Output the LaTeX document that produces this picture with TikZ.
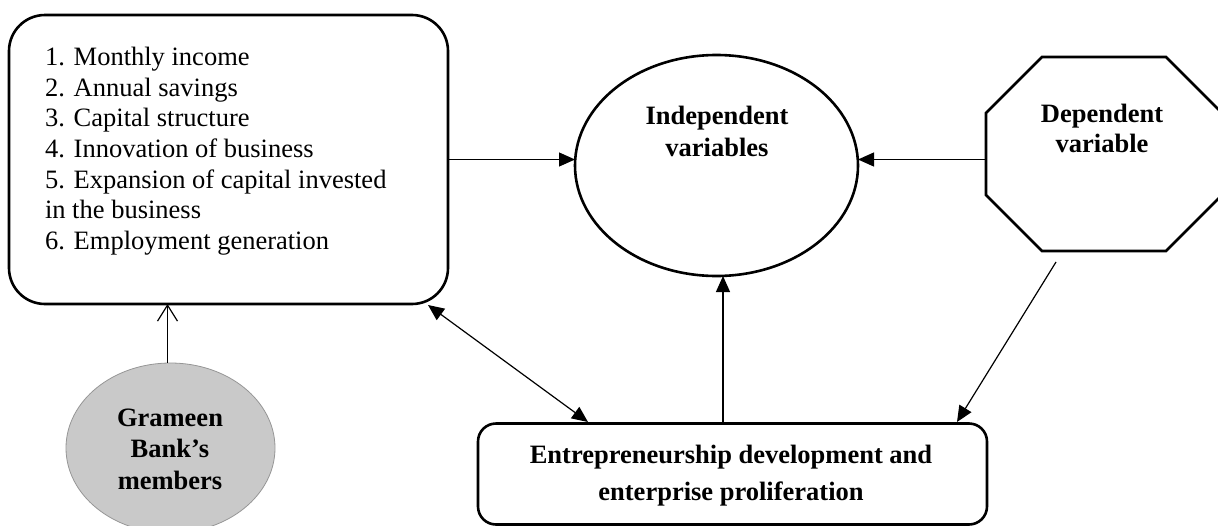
\documentclass[tikz,border=0pt]{standalone}
\usepackage{fontspec}
\setmainfont{Liberation Serif}
\usetikzlibrary{arrows.meta,shapes.geometric,calc}

\begin{document}
\begin{tikzpicture}[x=1pt,y=-1pt,
  every node/.style={inner sep=0pt,outer sep=0pt},
  thickline/.style={line width=2.6pt},
  arr/.style={line width=1.2pt,-{Triangle[length=16pt,width=14pt]}},
  dblarr/.style={line width=1.2pt,{Triangle[length=16pt,width=14pt]}-{Triangle[length=16pt,width=14pt]}},
  openarr/.style={line width=1.2pt,-{Straight Barb[length=16pt,width=20pt,line width=1.2pt]}},
  txt/.style={font=\fontsize{26.5}{30.7}\selectfont},
  btxt/.style={font=\fontsize{26.5}{31}\selectfont\bfseries,align=center},
]
\useasboundingbox (0,0) rectangle (1218,525);

% factor box with the six outcome measures
\node[draw,thickline,rounded corners=36pt,minimum width=439pt,minimum height=289pt] (lb) at (228.5,159.5) {};
\node[txt,anchor=north west,align=left] (lbt) at (45,47)
  {1. Monthly income\\2. Annual savings\\3. Capital structure\\4. Innovation of business\\5. Expansion of capital invested\\in the business\\6. Employment generation};

% independent variables
\node[draw,thickline,ellipse,minimum width=283pt,minimum height=221pt] (iv) at (716.5,165.5) {};
\node[btxt,font=\fontsize{26.5}{32}\selectfont\bfseries] (ivt) at (717,131) {Independent\\variables};

% dependent variable (octagon)
\node[minimum width=236pt,minimum height=194pt] (dep) at (1104,154) {};
\draw[thickline,line join=miter]
  ($(dep.north west)+(56,0)$) -- ($(dep.north east)+(-56,0)$) -- ($(dep.north east)+(0,56)$)
  -- ($(dep.south east)+(0,-56)$) -- ($(dep.south east)+(-56,0)$) -- ($(dep.south west)+(56,0)$)
  -- ($(dep.south west)+(0,-56)$) -- ($(dep.north west)+(0,56)$) -- cycle;
\node[btxt,font=\fontsize{26.5}{30}\selectfont\bfseries] (dept) at (1102,128) {Dependent\\variable};

% Grameen Bank's members
\node[ellipse,draw={rgb,255:red,150;green,150;blue,150},line width=0.8pt,
      fill={rgb,255:red,201;green,201;blue,201},minimum width=209pt,minimum height=170pt] (gb) at (170.5,448) {};
\node[btxt,font=\fontsize{26.5}{31.5}\selectfont\bfseries] (gbt) at (170,449) {Grameen\\Bank’s\\members};

% entrepreneurship box
\node[draw,thickline,rounded corners=18pt,minimum width=509pt,minimum height=101pt] (eb) at (732.5,474) {};
\node[btxt,font=\fontsize{26.5}{37}\selectfont\bfseries] (ebt) at (731,476) {Entrepreneurship development and\\enterprise proliferation};

% connectors
\coordinate (dstart) at (1056,262);
\coordinate (dend) at (957,422);
\coordinate (lbcorner) at (428,305);
\coordinate (ebleft) at (588,422);

\draw[arr] (lb.east) -- (lb.east -| iv.west);
\draw[arr] (dep.west |- lb.east) -- (lb.east -| iv.east);
\draw[arr] ([xshift=-9.5pt]eb.north) -- ([xshift=-9.5pt]eb.north |- iv.south);
\draw[arr] (dstart) -- (dend);
\draw[dblarr] (lbcorner) -- (ebleft);
\draw[openarr] ([xshift=-3pt]gb.north) -- ([xshift=-3pt]gb.north |- lb.south);
\end{tikzpicture}
\end{document}
